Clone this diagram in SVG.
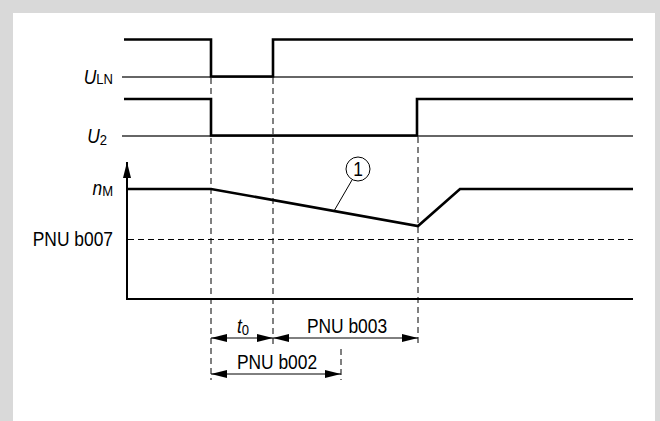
<svg xmlns="http://www.w3.org/2000/svg" width="660" height="421" viewBox="0 0 660 421">
<defs>
<style>
.t{font-family:"Liberation Sans",Arial,sans-serif;font-size:20px;fill:#000}
.i{font-style:italic}
.heavy{fill:none;stroke:#000;stroke-width:2.6;stroke-linejoin:miter}
.base{fill:none;stroke:#333;stroke-width:1.3}
.axis{fill:none;stroke:#000;stroke-width:2}
.dash{fill:none;stroke:#000;stroke-width:1;stroke-dasharray:6 4}
.dim{fill:none;stroke:#000;stroke-width:1;marker-start:url(#ah);marker-end:url(#ah)}
</style>
<marker id="ah" viewBox="0 0 16 8" refX="16" refY="4" markerWidth="16" markerHeight="8" markerUnits="userSpaceOnUse" orient="auto-start-reverse">
<path d="M0,0 L16,4 L0,8 Z" fill="#000"/>
</marker>
<marker id="axarrow" viewBox="0 0 8 16" refX="4" refY="0" markerWidth="8" markerHeight="16" markerUnits="userSpaceOnUse" orient="0">
<path d="M4,0 L8,16 L0,16 Z" fill="#000"/>
</marker>
</defs>
<rect x="0" y="0" width="660" height="421" fill="#d9d9d9"/>
<rect x="13" y="13" width="642" height="408" fill="#fff"/>

<g id="signal-ULN">
<line class="base" x1="122" y1="77" x2="633" y2="77"/>
<polyline class="heavy" points="124,39.5 211,39.5 211,76.5 273,76.5 273,39.5 633,39.5"/>
<text class="t" transform="translate(113,84) scale(0.87,1)" text-anchor="end"><tspan class="i">U</tspan><tspan font-size="15">LN</tspan></text>
</g>

<g id="signal-U2">
<line class="base" x1="122" y1="136" x2="633" y2="136"/>
<polyline class="heavy" points="124,99 211,99 211,135.5 417,135.5 417,99 633,99"/>
<text class="t" transform="translate(107,143) scale(0.87,1)" text-anchor="end"><tspan class="i">U</tspan><tspan font-size="15" dy="2">2</tspan></text>
</g>

<g id="speed-chart">
<line class="axis" x1="127" y1="300" x2="127" y2="162" marker-end="url(#axarrow)"/>
<line class="axis" x1="126" y1="299" x2="633" y2="299"/>
<polyline class="heavy" points="127,189 211,189 418,226 460,189 633,189"/>
<line class="dash" x1="128" y1="239.5" x2="633" y2="239.5"/>
<text class="t" transform="translate(113,195) scale(0.87,1)" text-anchor="end"><tspan class="i">n</tspan><tspan font-size="15" dy="1">M</tspan></text>
<text class="t" transform="translate(113,246) scale(0.87,1)" text-anchor="end">PNU b007</text>
</g>

<g id="marker-1">
<circle cx="358" cy="169" r="12" fill="#fff" stroke="#000" stroke-width="1"/>
<text class="t" transform="translate(358,176) scale(0.87,1)" text-anchor="middle" font-size="19">1</text>
<line x1="352" y1="180" x2="334" y2="211" stroke="#000" stroke-width="1"/>
</g>

<g id="connectors">
<line class="dash" x1="211" y1="78" x2="211" y2="380"/>
<line class="dash" x1="273" y1="78" x2="273" y2="347"/>
<line class="dash" x1="418" y1="137" x2="418" y2="346"/>
<line class="dash" x1="341" y1="349" x2="341" y2="380"/>
<line class="dim" x1="211" y1="338" x2="273" y2="338"/>
<line class="dim" x1="273" y1="338" x2="418" y2="338"/>
<line class="dim" x1="211" y1="374" x2="341" y2="374"/>
</g>

<g id="labels">
<text class="t" transform="translate(243,333) scale(0.87,1)" text-anchor="middle"><tspan class="i">t</tspan><tspan font-size="15" dy="2">0</tspan></text>
<text class="t" transform="translate(347,333) scale(0.87,1)" text-anchor="middle">PNU b003</text>
<text class="t" transform="translate(277,369) scale(0.87,1)" text-anchor="middle">PNU b002</text>
</g>
</svg>
